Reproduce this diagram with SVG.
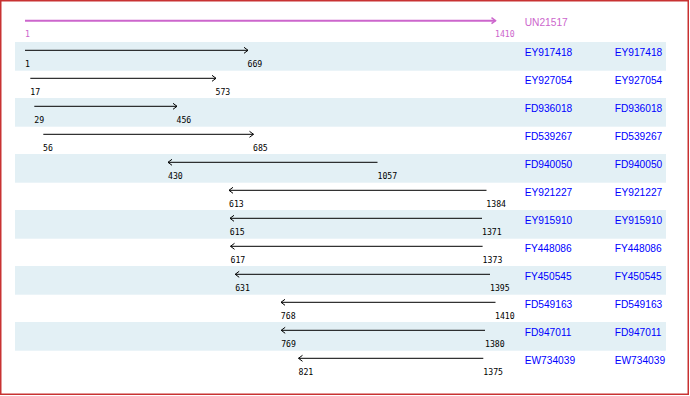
<svg xmlns="http://www.w3.org/2000/svg" width="690" height="396" viewBox="0 0 690 396">
<style>
.stripe{fill:#e3f0f5}
.ln{stroke:#000;stroke-width:1;fill:none;marker-end:url(#ah)}
.num{font-family:"DejaVu Sans Mono","Liberation Mono",monospace;font-size:8.2px;fill:#000}
.nm{font-family:"Liberation Sans",Arial,sans-serif;font-size:10.2px;fill:#0000ff}
.q{fill:#cc66cc}
</style>
<defs>
<marker id="ah" markerUnits="userSpaceOnUse" markerWidth="8" markerHeight="8" refX="4.5" refY="3" orient="auto" overflow="visible">
<path d="M0.5,0 L4.5,3 L0.5,6" fill="none" stroke="#000" stroke-width="1"/>
</marker>
<marker id="ahq" markerUnits="userSpaceOnUse" markerWidth="8" markerHeight="8" refX="4.5" refY="3" orient="auto" overflow="visible">
<path d="M0.5,0 L4.5,3 L0.5,6" fill="none" stroke="#cc66cc" stroke-width="1.5"/>
</marker>
</defs>
<rect x="0.75" y="0.75" width="687.5" height="393.5" fill="#fff" stroke="#c83232" stroke-width="1.5"/>
<g id="stripes">
<rect class="stripe" x="15" y="42" width="651" height="28.7"/>
<rect class="stripe" x="15" y="98" width="651" height="28.7"/>
<rect class="stripe" x="15" y="154" width="651" height="28.7"/>
<rect class="stripe" x="15" y="210" width="651" height="28.7"/>
<rect class="stripe" x="15" y="266" width="651" height="28.7"/>
<rect class="stripe" x="15" y="322" width="651" height="28.7"/>
</g>
<g id="query">
<line x1="25" y1="20.7" x2="495.5" y2="20.7" stroke="#cc66cc" stroke-width="2" marker-end="url(#ahq)"/>
<text class="num q" x="25" y="37">1</text>
<text class="num q" x="495" y="37">1410</text>
<text class="nm q" x="524.7" y="26" style="fill:#cc66cc">UN21517</text>
</g>
<g id="connectors">
<line class="ln" x1="25" y1="50.3" x2="248" y2="50.3"/>
<line class="ln" x1="30.3" y1="78.3" x2="216" y2="78.3"/>
<line class="ln" x1="34.3" y1="106.3" x2="177" y2="106.3"/>
<line class="ln" x1="43.3" y1="134.3" x2="253.5" y2="134.3"/>
<line class="ln" x1="377.5" y1="162.3" x2="168" y2="162.3"/>
<line class="ln" x1="486.5" y1="190.3" x2="229" y2="190.3"/>
<line class="ln" x1="482" y1="218.3" x2="230" y2="218.3"/>
<line class="ln" x1="482.6" y1="246.3" x2="230.5" y2="246.3"/>
<line class="ln" x1="490" y1="274.3" x2="235.2" y2="274.3"/>
<line class="ln" x1="495.5" y1="302.3" x2="281" y2="302.3"/>
<line class="ln" x1="485" y1="330.3" x2="281.2" y2="330.3"/>
<line class="ln" x1="483.3" y1="358.3" x2="298.5" y2="358.3"/>
</g>
<g id="EY917418"><text class="num" x="25" y="66.5">1</text><text class="num" x="247.5" y="66.5">669</text><text class="nm" x="524.7" y="55.7">EY917418</text><text class="nm" x="614.7" y="55.7">EY917418</text></g>
<g id="EY927054"><text class="num" x="30.3" y="94.5">17</text><text class="num" x="215.5" y="94.5">573</text><text class="nm" x="524.7" y="83.7">EY927054</text><text class="nm" x="614.7" y="83.7">EY927054</text></g>
<g id="FD936018"><text class="num" x="34.3" y="122.5">29</text><text class="num" x="176.5" y="122.5">456</text><text class="nm" x="524.7" y="111.7">FD936018</text><text class="nm" x="614.7" y="111.7">FD936018</text></g>
<g id="FD539267"><text class="num" x="43" y="150.5">56</text><text class="num" x="253" y="150.5">685</text><text class="nm" x="524.7" y="139.7">FD539267</text><text class="nm" x="614.7" y="139.7">FD539267</text></g>
<g id="FD940050"><text class="num" x="168" y="178.5">430</text><text class="num" x="377.5" y="178.5">1057</text><text class="nm" x="524.7" y="167.7">FD940050</text><text class="nm" x="614.7" y="167.7">FD940050</text></g>
<g id="EY921227"><text class="num" x="229" y="206.5">613</text><text class="num" x="486.3" y="206.5">1384</text><text class="nm" x="524.7" y="195.7">EY921227</text><text class="nm" x="614.7" y="195.7">EY921227</text></g>
<g id="EY915910"><text class="num" x="229.8" y="234.5">615</text><text class="num" x="482" y="234.5">1371</text><text class="nm" x="524.7" y="223.7">EY915910</text><text class="nm" x="614.7" y="223.7">EY915910</text></g>
<g id="FY448086"><text class="num" x="230.5" y="262.5">617</text><text class="num" x="482.6" y="262.5">1373</text><text class="nm" x="524.7" y="251.7">FY448086</text><text class="nm" x="614.7" y="251.7">FY448086</text></g>
<g id="FY450545"><text class="num" x="235.2" y="290.5">631</text><text class="num" x="490" y="290.5">1395</text><text class="nm" x="524.7" y="279.7">FY450545</text><text class="nm" x="614.7" y="279.7">FY450545</text></g>
<g id="FD549163"><text class="num" x="280.8" y="318.5">768</text><text class="num" x="495" y="318.5">1410</text><text class="nm" x="524.7" y="307.7">FD549163</text><text class="nm" x="614.7" y="307.7">FD549163</text></g>
<g id="FD947011"><text class="num" x="281.2" y="346.5">769</text><text class="num" x="485" y="346.5">1380</text><text class="nm" x="524.7" y="335.7">FD947011</text><text class="nm" x="614.7" y="335.7">FD947011</text></g>
<g id="EW734039"><text class="num" x="298.5" y="374.5">821</text><text class="num" x="483.3" y="374.5">1375</text><text class="nm" x="524.7" y="363.7">EW734039</text><text class="nm" x="614.7" y="363.7">EW734039</text></g>
</svg>
